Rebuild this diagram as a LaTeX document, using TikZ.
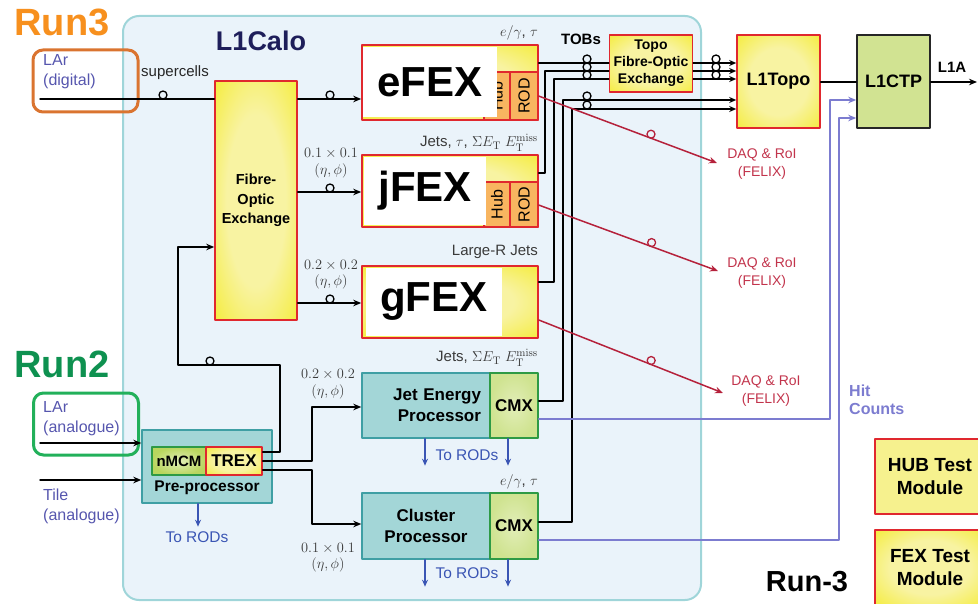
\documentclass[tikz,border=0pt]{standalone}
\usepackage{amsmath,amssymb}
\usepackage{graphicx}
\usepackage[no-math]{fontspec}
\setmainfont{Liberation Sans}
\usetikzlibrary{arrows.meta,calc,positioning}

\newcommand\fsz[2]{\fontsize{#1}{#2}\selectfont}

\definecolor{runorange}{HTML}{F7901E}
\definecolor{boxorange}{HTML}{DA7430}
\definecolor{rungreen}{HTML}{0E9150}
\definecolor{boxgreen}{HTML}{22B05A}
\definecolor{calofill}{HTML}{EAF3FA}
\definecolor{caloline}{HTML}{9FD5D9}
\definecolor{caloname}{HTML}{1E1E5A}
\definecolor{yelpale}{HTML}{F8F3A2}
\definecolor{yelmid}{HTML}{F5ED48}
\definecolor{yelsat}{HTML}{F2E700}
\definecolor{hubfill}{HTML}{F6F18E}
\definecolor{redline}{HTML}{E0282E}
\definecolor{rodfill}{HTML}{F8B560}
\definecolor{tealfill}{HTML}{A3D6D7}
\definecolor{tealline}{HTML}{3F9FA4}
\definecolor{cmxfill}{HTML}{CFE390}
\definecolor{cmxpale}{HTML}{E2EEB8}
\definecolor{cmxline}{HTML}{2E9A45}
\definecolor{nmcmfill}{HTML}{B9D65E}
\definecolor{ctpfill}{HTML}{D1E392}
\definecolor{inblue}{HTML}{5656AE}
\definecolor{rodblue}{HTML}{3A55B4}
\definecolor{daqred}{HTML}{B5213B}
\definecolor{daqtext}{HTML}{C2344C}
\definecolor{hitblue}{HTML}{7C7CD0}
\definecolor{tagtext}{HTML}{3A3A3A}

% pale centre, bright yellow rim
\pgfdeclareradialshading{yelglow}{\pgfpoint{0bp}{0bp}}{color(0bp)=(yelpale); color(18bp)=(yelpale); color(34bp)=(yelmid); color(44bp)=(yelsat); color(50bp)=(yelsat)}

\tikzset{
  fibreloop/.pic={\draw[-, line width=1.3pt] (0,-4) circle[radius=4];}
}

\begin{document}
\begin{tikzpicture}[x=1pt, y=-1pt, line cap=round, line join=round, >={Stealth[length=8pt, width=6.5pt]},
  wire/.style={line width=1.5pt},
  daqline/.style={line width=1.5pt, color=daqred},
  hitline/.style={line width=1.3pt, color=hitblue},
  rodarrow/.style={line width=1.6pt, color=rodblue, ->, >={Stealth[length=7pt, width=6pt]}},
  yelbox/.style={draw=redline, line width=1.6pt, shade, shading=yelglow, inner sep=0},
  subbox/.style={draw=redline, line width=1.2pt, fill=rodfill, inner sep=0, font=\fsz{16}{18}},
  fexname/.style={fill=white, inner sep=0, font=\fsz{42}{44}\bfseries},
  procbox/.style={draw=tealline, line width=1.4pt, fill=tealfill, inner sep=0, font=\fsz{17}{21}\bfseries},
  cmxbox/.style={draw=cmxline, line width=1.4pt, inner color=cmxpale, outer color=cmxfill, inner sep=0, font=\fsz{17}{20}\bfseries},
  sizetag/.style={text=tagtext, inner sep=0, font=\fsz{15}{16.5}, align=center},
  intext/.style={text=inblue, inner sep=0, font=\fsz{16}{20}, align=left, anchor=west},
  daqtag/.style={text=daqtext, inner sep=0, font=\fsz{14}{18}, align=center},
  runtag/.style={inner sep=0, font=\fsz{38}{40}\bfseries},
]
\useasboundingbox (0,0) rectangle (978,604);
\clip (0,0) rectangle (978,604);

% L1Calo crate
\node[draw=caloline, line width=2pt, fill=calofill, rounded corners=16pt,
      minimum width=578, minimum height=584, inner sep=0] (calo) at (412,308) {};
\node[text=caloname, font=\fsz{27}{30}\bfseries, inner sep=0] (calotitle) at (261,41) {L1Calo};

% Run labels and inputs
\node[runtag, text=runorange] (runthree) at (62,22) {Run3};
\node[draw=boxorange, line width=3pt, rounded corners=10pt, minimum width=105, minimum height=62, inner sep=0] (digbox) at (85.5,81) {};
\node[intext] (lardig) at (43,72) {LAr\\(digital)};
\node[runtag, text=rungreen] (runtwo) at (62,364) {Run2};
\node[draw=boxgreen, line width=3pt, rounded corners=10pt, minimum width=105, minimum height=62, inner sep=0] (anabox) at (86,424) {};
\node[intext] (larana) at (43,419) {LAr\\(analogue)};
\node[intext] (tileana) at (43,506) {Tile\\(analogue)};

% Fibre-optic exchange
\node[yelbox, minimum width=82, minimum height=239, font=\fsz{14.5}{19.5}\bfseries, align=center] (fox) at (256,200.5) {Fibre-\\Optic\\Exchange};

% FEX modules
\node[yelbox, minimum width=176, minimum height=75] (efex) at (450,82.5) {};
\node[subbox, minimum width=26, minimum height=48] (ehub) at (497,96) {\rotatebox{90}{Hub}};
\node[subbox, minimum width=28, minimum height=48] (erod) at (524,96) {\rotatebox{90}{ROD}};
\node[fexname, minimum width=134, minimum height=70] (ename) at (430,82) {eFEX};

\node[yelbox, minimum width=176, minimum height=72] (jfex) at (450,191) {};
\node[subbox, minimum width=26, minimum height=45] (jhub) at (497,204.5) {\rotatebox{90}{Hub}};
\node[subbox, minimum width=28, minimum height=45] (jrod) at (524,204.5) {\rotatebox{90}{ROD}};
\node[fexname, minimum width=122, minimum height=68] (jname) at (425,191) {jFEX};

\node[yelbox, minimum width=176, minimum height=72] (gfex) at (450,302) {};
\node[fexname, minimum width=136, minimum height=68] (gname) at (434,302) {gFEX};

% Run-2 processors
\node[procbox, minimum width=128, minimum height=65, text width=110, align=right] (jep) at (426,405.5) {Jet Energy\\Processor};
\node[cmxbox, minimum width=48, minimum height=65] (jepcmx) at (514,405.5) {CMX};
\node[procbox, minimum width=128, minimum height=66, align=center] (cp) at (426,526) {Cluster\\Processor};
\node[cmxbox, minimum width=48, minimum height=66] (cpcmx) at (514,526) {CMX};

\node[draw=tealline, line width=1.4pt, fill=tealfill, minimum width=130, minimum height=73, inner sep=0] (pre) at (207,466.5) {};
\node[draw=cmxline, line width=1.4pt, inner color=cmxpale, outer color=nmcmfill, minimum width=54, minimum height=28, inner sep=0, font=\fsz{15}{17}\bfseries] (nmcm) at (179,461) {nMCM};
\node[yelbox, minimum width=56, minimum height=28, font=\fsz{17}{19}\bfseries] (trex) at (234,461) {TREX};
\node[inner sep=0, font=\fsz{15.5}{18}\bfseries] (pretext) at (207,488) {Pre-processor};

% tags
\node[sizetag, anchor=east] (etobs) at (538,33) {$e/\gamma$, $\tau$};
\node[sizetag, anchor=east] (jtobs) at (538,143) {Jets, $\tau$, $\Sigma E_{\mathrm{T}}\ E_{\mathrm{T}}^{\mathrm{miss}}$};
\node[sizetag, anchor=east] (gtobs) at (538,252) {Large-R Jets};
\node[sizetag, anchor=east] (jeptobs) at (538,358) {Jets, $\Sigma E_{\mathrm{T}}\ E_{\mathrm{T}}^{\mathrm{miss}}$};
\node[sizetag, anchor=east] (cptobs) at (538,482) {$e/\gamma$, $\tau$};
\node[sizetag] (jgran) at (331,163) {$0.1\times0.1$\\$(\eta,\phi)$};
\node[sizetag] (ggran) at (331,274.5) {$0.2\times0.2$\\$(\eta,\phi)$};
\node[sizetag] (jepgran) at (328,384) {$0.2\times0.2$\\$(\eta,\phi)$};
\node[sizetag] (cpgran) at (328,557.5) {$0.1\times0.1$\\$(\eta,\phi)$};
\node[sizetag, text=black!85] (supercells) at (175,73) {supercells};

% inputs into the crate
\coordinate (digin) at (40,99);
\coordinate (anain) at (40,443);
\coordinate (tilein) at (40,480);
\draw[wire] (digin) -- (digin -| fox.west);
\pic at (163,99) {fibreloop};
\draw[wire,->] (anain) -- (anain -| pre.west);
\draw[wire,->] (tilein) -- (tilein -| pre.west);

% TREX outputs
\draw[wire,->] (trex.east |- 0,452) -- (280,452) -- (280,365) -- (178,365) -- (178,247) -- (fox.west |- 0,247);
\pic at (210,365) {fibreloop};
\draw[wire,->] (trex.east |- 0,461) -- (312,461) |- (jep.west |- 0,407);
\draw[wire,->] (trex.east |- 0,470) -- (312,470) |- (cp.west |- 0,524);

% FOX to FEXes
\draw[wire,->] (fox.east |- 0,99) -- (efex.west |- 0,99);
\draw[wire,->] (fox.east |- 0,192) -- (jfex.west |- 0,192);
\draw[wire,->] (fox.east |- 0,303) -- (gfex.west |- 0,303);
\foreach \y in {99,192,303} \pic at (330,\y) {fibreloop};

% To RODs
\draw[rodarrow] ([xshift=-9pt]pre.south) -- ++(0,23);
\node[intext, text=rodblue, font=\fsz{15.5}{18}, anchor=center] (prerods) at (197,537) {To RODs};
\draw[rodarrow] ([xshift=-1pt]jep.south) -- ++(0,27);
\draw[rodarrow] ([xshift=-6pt]jepcmx.south) -- ++(0,27);
\node[intext, text=rodblue, font=\fsz{15.5}{18}, anchor=center] (jeprods) at (467,455) {To RODs};
\draw[rodarrow] ([xshift=-1pt]cp.south) -- ++(0,27);
\draw[rodarrow] ([xshift=-6pt]cpcmx.south) -- ++(0,27);
\node[intext, text=rodblue, font=\fsz{15.5}{18}, anchor=center] (cprods) at (467,573) {To RODs};

% L1Topo and CTP
\node[yelbox, minimum width=83, minimum height=57, font=\fsz{14}{17}\bfseries, align=center] (topofox) at (651,63.5) {Topo\\Fibre-Optic\\Exchange};
\node[yelbox, minimum width=83, minimum height=93, font=\fsz{18}{20}\bfseries] (l1topo) at (778.5,81.5) {L1Topo};
\node[draw=black!85, line width=1.6pt, fill=ctpfill, minimum width=73, minimum height=93, inner sep=0, font=\fsz{18}{20}\bfseries] (l1ctp) at (893.5,81.5) {L1CTP};
\node[inner sep=0, font=\fsz{15}{17}\bfseries] (tobs) at (581,39) {TOBs};

% TOBs
\draw[wire] (efex.east |- 0,63) -- (topofox.west |- 0,63);
\draw[wire] (jfex.east |- 0,173) -| (545,71) -- (topofox.west |- 0,71);
\draw[wire] (gfex.east |- 0,282) -| (554,79) -- (topofox.west |- 0,79);
\draw[wire,->,>={Stealth[length=7pt, width=6pt]}] (jepcmx.east |- 0,401) -| (563,100) -- (l1topo.west |- 0,100);
\draw[wire,->,>={Stealth[length=7pt, width=6pt]}] (cpcmx.east |- 0,522) -| (572,109) -- (l1topo.west |- 0,109);
\foreach \y in {63,71,79} \draw[wire,->,>={Stealth[length=7pt, width=6pt]}] (topofox.east |- 0,\y) -- (l1topo.west |- 0,\y);
\foreach \y in {63,71,79,100,109} \pic at (587,\y) {fibreloop};
\foreach \y in {63,71,79} \pic at (716,\y) {fibreloop};

\draw[wire] (l1topo.east |- 0,82) -- (l1ctp.west |- 0,82);
\coordinate (l1aout) at (977,82);
\draw[wire,->] (l1ctp.east |- 0,82) -- (l1aout);
\node[inner sep=0, font=\fsz{15}{17}\bfseries] (l1a) at (952,67) {L1A};

% readout to FELIX
\coordinate (daqe) at (717,163);
\coordinate (daqj) at (718,271);
\coordinate (daqg) at (723,393);
\draw[daqline,->] (erod.east |- 0,96) -- (daqe) pic[pos=0.63] {fibreloop};
\draw[daqline,->] (jrod.east |- 0,205) -- (daqj) pic[pos=0.63] {fibreloop};
\draw[daqline,->] (gfex.east |- 0,320) -- (daqg) pic[pos=0.61] {fibreloop};
\node[daqtag] (daqetag) at (762,164) {DAQ \& RoI\\(FELIX)};
\node[daqtag] (daqjtag) at (762,273) {DAQ \& RoI\\(FELIX)};
\node[daqtag] (daqgtag) at (766,391.5) {DAQ \& RoI\\(FELIX)};

% hit counts
\draw[hitline,->] (jepcmx.east |- 0,419) -| (830,100) -- (l1ctp.west |- 0,100);
\draw[hitline,->] (cpcmx.east |- 0,540) -| (839,118) -- (l1ctp.west |- 0,118);
\node[intext, text=hitblue, font=\fsz{16}{18}\bfseries] (hits) at (849,400) {Hit\\Counts};

% test modules
\node[draw=redline, line width=2.5pt, fill=hubfill, minimum width=110, minimum height=75, inner sep=0, font=\fsz{19}{23}\bfseries, align=center] (hubtest) at (930,476.5) {HUB Test\\Module};
\node[yelbox, line width=2.5pt, minimum width=110, minimum height=75, font=\fsz{19}{23}\bfseries, align=center] (fextest) at (930,567.5) {FEX Test\\Module};
\node[inner sep=0, font=\fsz{29}{31}\bfseries] (runthreelbl) at (807,582) {Run-3};
\end{tikzpicture}
\end{document}
